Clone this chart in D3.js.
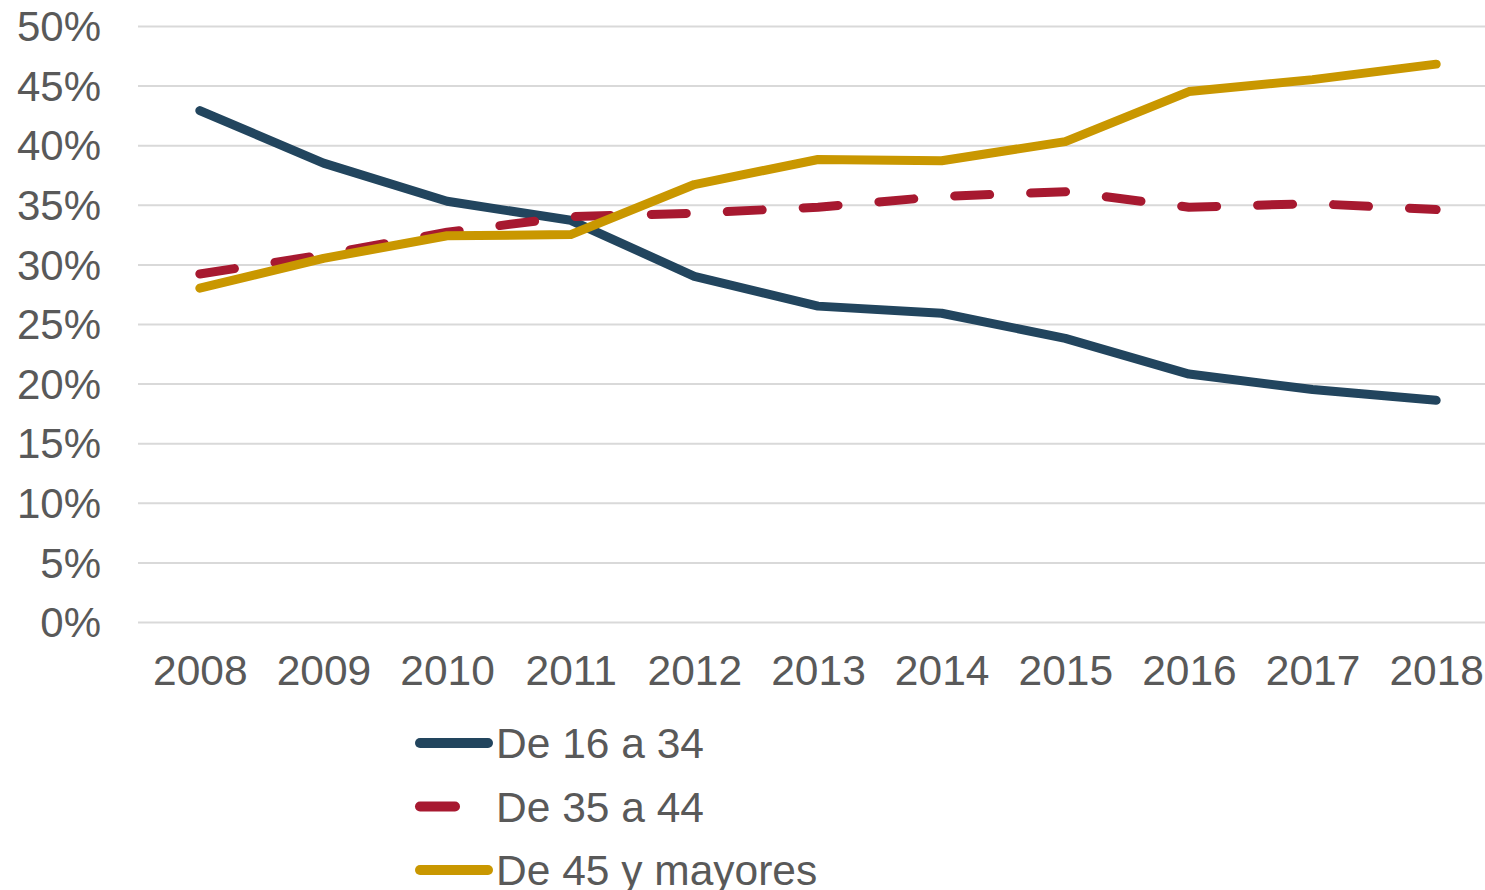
<!DOCTYPE html>
<html>
<head>
<meta charset="utf-8">
<script src="https://cdn.jsdelivr.net/npm/d3@7"></script>
<style>
  html, body { margin: 0; padding: 0; background: #fff; }
  svg { display: block; font-family: "Liberation Sans", Arial, sans-serif; }
</style>
</head>
<body>
<svg id="vis" width="1485" height="890"></svg>
<script>
// data
const years = ['2008', '2009', '2010', '2011', '2012', '2013', '2014', '2015', '2016', '2017', '2018'];
const de16a34 = [0.429, 0.385, 0.353, 0.337, 0.290, 0.265, 0.259, 0.238, 0.208, 0.195, 0.186];
const de35a44 = [0.292, 0.308, 0.327, 0.340, 0.343, 0.348, 0.357, 0.361, 0.348, 0.351, 0.346];
const de45ymas = [0.280, 0.305, 0.324, 0.325, 0.367, 0.388, 0.387, 0.403, 0.445, 0.455, 0.468];
const yTicks = [0, 0.05, 0.10, 0.15, 0.20, 0.25, 0.30, 0.35, 0.40, 0.45, 0.50];

const series = [
  { name: 'De 16 a 34', values: de16a34, color: '#22455E', dash: null },
  { name: 'De 35 a 44', values: de35a44, color: '#A71930', dash: '35,41' },
  { name: 'De 45 y mayores', values: de45ymas, color: '#C99700', dash: null }
];

const textColor = '#595959';
const vis = d3.select('#vis');

const x = d3.scalePoint()
  .domain(years)
  .range([138, 1498])
  .padding(0.5);

const y = d3.scaleLinear()
  .domain([0, 0.5])
  .range([622, 26]);

// grid
const yAxis = d3.axisLeft(y)
  .tickValues(yTicks)
  .tickSize(-(1498 - 138))
  .tickPadding(37)
  .tickFormat(d3.format('.0%'));

const gy = vis.append('g')
  .attr('transform', 'translate(138,0)')
  .call(yAxis);

gy.select('.domain').remove();
gy.selectAll('.tick line')
  .attr('stroke', '#D9D9D9')
  .attr('stroke-width', 2);
gy.selectAll('.tick text')
  .attr('fill', textColor)
  .attr('font-size', 42)
  .attr('dy', '0.35em');

const xAxis = d3.axisBottom(x)
  .tickSize(0)
  .tickPadding(33);

const gx = vis.append('g')
  .attr('transform', 'translate(0,622)')
  .call(xAxis);

gx.select('.domain').remove();
gx.selectAll('.tick text')
  .attr('fill', textColor)
  .attr('font-size', 42.5);

// lines
const line = d3.line()
  .x((d, i) => x(years[i]))
  .y(d => y(d));

vis.selectAll('path.serie')
  .data(series)
  .enter()
    .append('path')
    .classed('serie', true)
    .attr('d', d => line(d.values))
    .attr('fill', 'none')
    .attr('stroke', d => d.color)
    .attr('stroke-width', 9)
    .attr('stroke-linejoin', 'round')
    .attr('stroke-linecap', 'round')
    .attr('stroke-dasharray', d => d.dash);

// legend
const legend = vis.selectAll('g.legend')
  .data(series)
  .enter()
    .append('g')
    .classed('legend', true)
    .attr('transform', (d, i) => 'translate(0,' + (743 + i * 63.5) + ')');

legend.append('line')
  .attr('x1', 420)
  .attr('x2', 488)
  .attr('y1', 0)
  .attr('y2', 0)
  .attr('stroke', d => d.color)
  .attr('stroke-width', 10)
  .attr('stroke-linecap', 'round')
  .attr('stroke-dasharray', d => d.dash);

legend.append('text')
  .attr('x', 496)
  .attr('y', 15)
  .attr('fill', textColor)
  .attr('font-size', 42.5)
  .text(d => d.name);
</script>
</body>
</html>
